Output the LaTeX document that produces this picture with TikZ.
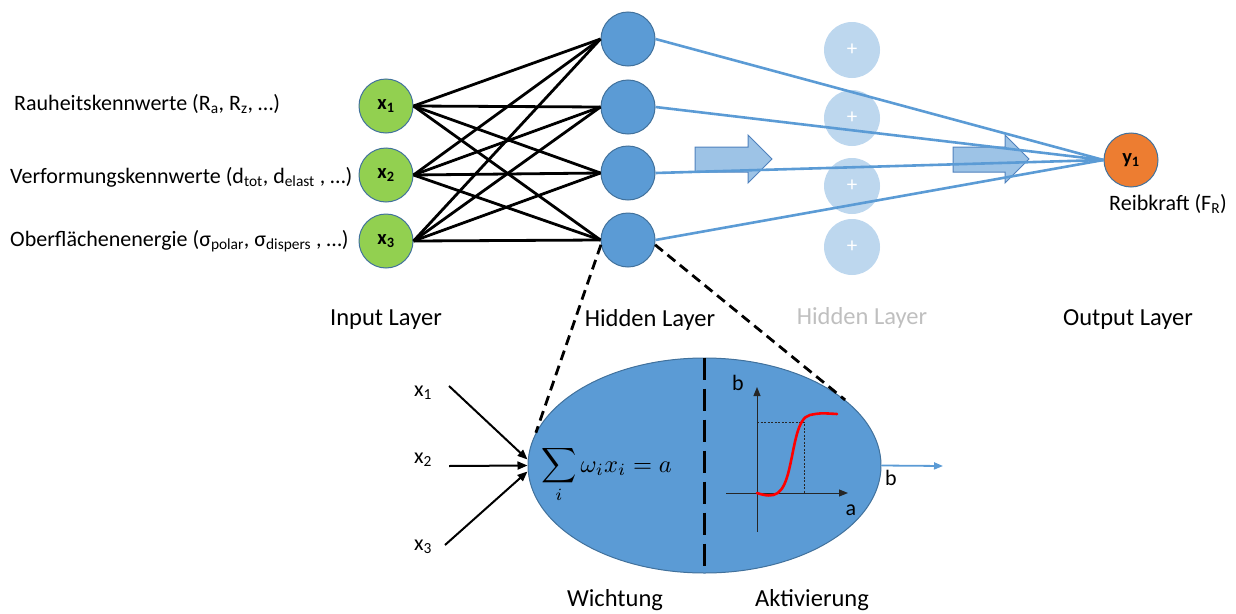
\documentclass[tikz,border=0pt]{standalone}
\usepackage{fontspec}
\setmainfont{Carlito}
\usetikzlibrary{shapes.geometric,arrows.meta}
\definecolor{nborder}{HTML}{41719C}
\definecolor{ngreen}{HTML}{92D050}
\definecolor{nblue}{HTML}{5B9BD5}
\definecolor{norange}{HTML}{ED7D31}
\definecolor{nfaded}{HTML}{BDD7EE}
\definecolor{barrowfill}{HTML}{9DC3E6}
\definecolor{barrowdraw}{HTML}{4F81BD}
\definecolor{fadedtext}{HTML}{BFBFBF}
\definecolor{curvered}{HTML}{FF0000}
\begin{document}
\begin{tikzpicture}[x=1pt,y=-1pt,
  inp/.style={circle,fill=ngreen,draw=nborder,line width=1pt,minimum size=54pt,inner sep=0pt,font=\fontsize{20.5}{24}\selectfont\bfseries},
  hid/.style={circle,fill=nblue,draw=nborder,line width=1pt,minimum size=54pt,inner sep=0pt},
  ghost/.style={circle,fill=nfaded,minimum size=56pt,inner sep=0pt,text=white,font=\fontsize{21}{24}\selectfont},
  outn/.style={circle,fill=norange,draw=nborder,line width=1pt,minimum size=54pt,inner sep=0pt,font=\fontsize{20.5}{24}\selectfont\bfseries},
  lbl/.style={font=\fontsize{22}{26}\selectfont,inner sep=0pt},
  layer/.style={font=\fontsize{24.5}{29}\selectfont,inner sep=0pt},
  wline/.style={line width=2.8pt,black},
  bline/.style={line width=2.6pt,nblue},
  barrow/.style={fill=barrowfill,draw=barrowdraw,line width=1pt,line join=miter},
  zoomline/.style={line width=2.8pt,black,dash pattern=on 10pt off 6pt},
  inarrow/.style={line width=2pt,black,-{Triangle[length=10pt,width=8pt]}},
  axisline/.style={line width=1pt,black!85,-{Triangle[length=9pt,width=7pt]}},
  guide/.style={line width=0.8pt,black!85,dash pattern=on 2pt off 1.5pt}
]
\useasboundingbox (0,0) rectangle (1236,613);

% faded hidden layer
\node[ghost] (g1) at (852,50) {+};
\node[ghost] (g2) at (852,118) {+};
\node[ghost] (g3) at (852,186) {+};
\node[ghost] (g4) at (852,247) {+};

% block arrows
\draw[barrow] (695,147) -- (748,147) -- (748,135) -- (772,159) -- (748,183) -- (748,172) -- (695,172) -- cycle;
\draw[barrow] (953,147) -- (1005,147) -- (1005,135) -- (1029,159) -- (1005,183) -- (1005,172) -- (953,172) -- cycle;

% input nodes
\node[inp] (in1) at (386,106) {x\textsubscript{1}};
\node[inp] (in2) at (386,175) {x\textsubscript{2}};
\node[inp] (in3) at (386,241) {x\textsubscript{3}};

% hidden nodes
\node[hid] (h1) at (628,39) {};
\node[hid] (h2) at (628,107) {};
\node[hid] (h3) at (628,173) {};
\node[hid] (h4) at (628,240) {};

% output node
\node[outn] (y1) at (1131,160) {y\textsubscript{1}};

% connections
\foreach \i in {1,2,3} {
  \foreach \j in {1,2,3,4} {
    \draw[wline] (in\i.east) -- (h\j.west);
  }
}
\foreach \j in {1,2,3,4} {
  \draw[bline] (h\j.east) -- (y1.west);
}

% left labels
\node[lbl,anchor=west] (l1) at (14,104) {Rauheitskennwerte (R\textsubscript{a}, R\textsubscript{z}, …)};
\node[lbl,anchor=west] (l2) at (10,177) {Verformungskennwerte (d\textsubscript{tot}, d\textsubscript{elast} , …)};
\node[lbl,anchor=west] (l3) at (10,241) {Oberflächenenergie (σ\textsubscript{polar}, σ\textsubscript{dispers} , …)};
\node[lbl] (fr) at (1168,204) {Reibkraft (F\textsubscript{R})};

% layer labels
\node[layer] (tin) at (386,320) {Input Layer};
\node[layer] (thid) at (650,320) {Hidden Layer};
\node[layer,text=fadedtext] (tghost) at (862,318) {Hidden Layer};
\node[layer] (tout) at (1128,320) {Output Layer};

% neuron detail
\node[ellipse,fill=nblue,draw=nborder,line width=1pt,minimum width=353pt,minimum height=215pt,inner sep=0pt] (neuron) at (704.5,465.5) {};
\draw[line width=3.5pt,black,dash pattern=on 22pt off 9pt] (neuron.north) -- (neuron.south);
\draw[zoomline] (h4.190) -- (neuron.169);
\draw[zoomline] (h4.350) -- (neuron.25.5);

\node[anchor=base west,inner sep=0pt] (formula) at (541,472) {\scalebox{2.45}{$\displaystyle\sum_i \omega_i x_i = a$}};

% inputs to neuron
\node[lbl] (bx1) at (423,393) {x\textsubscript{1}};
\node[lbl] (bx2) at (423,460) {x\textsubscript{2}};
\node[lbl] (bx3) at (423,547) {x\textsubscript{3}};
\coordinate (s1) at (449,386);
\coordinate (s2) at (449,466);
\coordinate (s3) at (445,545);
\draw[inarrow] (s1) -- ([yshift=6pt]neuron.west);
\draw[inarrow] (s2) -- (neuron.west);
\draw[inarrow] (s3) -- ([yshift=-6pt]neuron.west);

% activation plot
\coordinate (O) at (757,493);
\coordinate (ax0) at (726,493);
\coordinate (ax1) at (848,493);
\coordinate (ay0) at (757,532);
\coordinate (ay1) at (757,387);
\draw[axisline] (ax0) -- (ax1);
\draw[axisline] (ay0) -- (ay1);
\draw[guide] (757,422) -- (804,422) -- (804,493);
\draw[curvered,line width=2.6pt,line cap=round] (O) .. controls (775,499) and (783,495) .. (789,470) .. controls (795,445) and (797,418) .. (810,415) .. controls (820,413) .. (837,414);
\node[lbl] (lb) at (738,383) {b};
\node[lbl] (la) at (851,510) {a};

% output of neuron
\coordinate (oend) at (943,466);
\draw[nblue,line width=1.8pt,-{Triangle[length=9pt,width=7pt]}] (neuron.east) -- (oend);
\node[lbl] (lbo) at (891,478) {b};

\node[layer] (tw) at (615,600) {Wichtung};
\node[layer] (ta) at (812,600) {Aktivierung};
\end{tikzpicture}
\end{document}
